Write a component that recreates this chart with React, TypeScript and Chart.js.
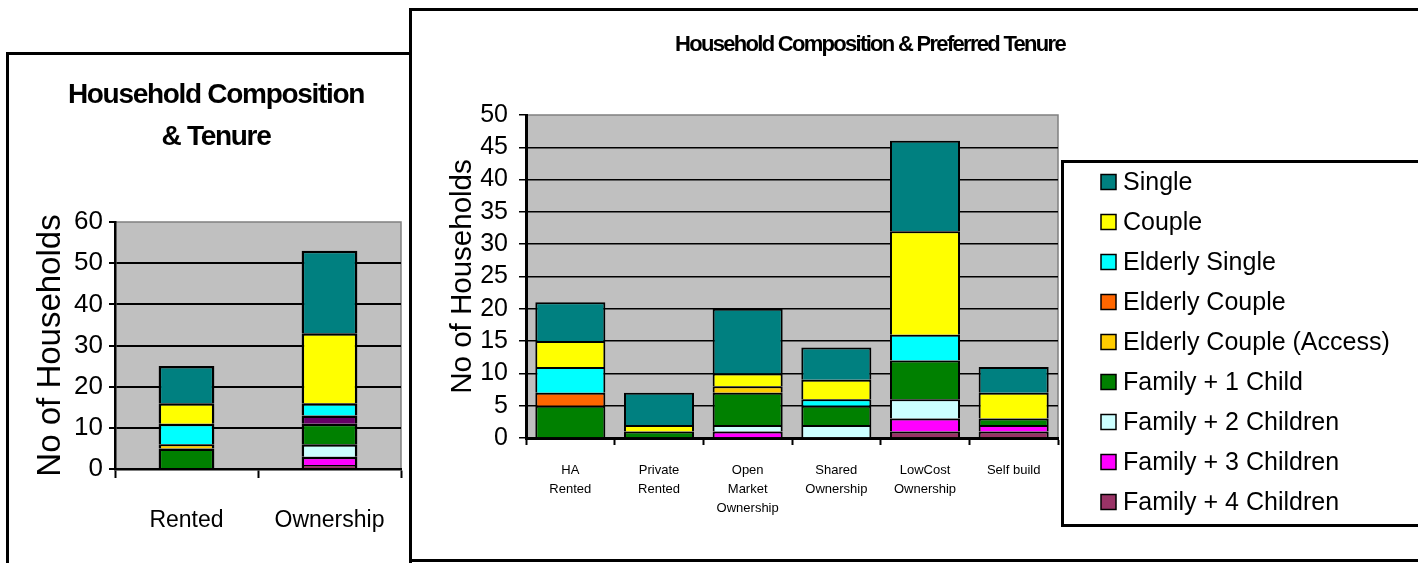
import React, { useEffect, useRef } from 'react';
import { Chart, registerables } from 'chart.js';

Chart.register(...registerables);

const FONT = '"Liberation Sans", Arial, sans-serif';

// Series (bottom of stack first)
const seriesLabels = [
  'Family + 4 Children',
  'Family + 3 Children',
  'Family + 2 Children',
  'Family + 1 Child',
  'Elderly Couple (Access)',
  'Elderly Couple',
  'Elderly Single',
  'Couple',
  'Single',
];
const seriesColors = ['#993366', '#FF00FF', '#CCFFFF', '#008000', '#FFCC00', '#FF6600', '#00FFFF', '#FFFF00', '#008080'];
const tenureColors = ['#993366', '#FF00FF', '#CCFFFF', '#008000', '#FFCC00', '#660066', '#00FFFF', '#FFFF00', '#008080'];

// Left chart: Household Composition & Tenure
const tenureCategories = ['Rented', 'Ownership'];
const tenureFamily4 = [0, 1];
const tenureFamily3 = [0, 2];
const tenureFamily2 = [0, 3];
const tenureFamily1 = [5, 5];
const tenureElderlyCoupleAccess = [1, 0];
const tenureElderlyCouple = [0, 2];
const tenureElderlySingle = [5, 3];
const tenureCouple = [5, 17];
const tenureSingle = [9, 20];
const tenureTicks = [0, 10, 20, 30, 40, 50, 60];

// Right chart: Household Composition & Preferred Tenure
const prefCategories = [
  ['HA', 'Rented'],
  ['Private', 'Rented'],
  ['Open', 'Market', 'Ownership'],
  ['Shared', 'Ownership'],
  ['LowCost', 'Ownership'],
  ['Self build'],
];
const prefFamily4 = [0, 0, 0, 0, 1, 1];
const prefFamily3 = [0, 0, 1, 0, 2, 1];
const prefFamily2 = [0, 0, 1, 2, 3, 0];
const prefFamily1 = [5, 1, 5, 3, 6, 1];
const prefElderlyCoupleAccess = [0, 0, 1, 0, 0, 0];
const prefElderlyCouple = [2, 0, 0, 0, 0, 0];
const prefElderlySingle = [4, 0, 0, 1, 4, 0];
const prefCouple = [4, 1, 2, 3, 16, 4];
const prefSingle = [6, 5, 10, 5, 14, 4];
const prefTicks = [0, 5, 10, 15, 20, 25, 30, 35, 40, 45, 50];

const tenureSeries = [
  tenureFamily4, tenureFamily3, tenureFamily2, tenureFamily1, tenureElderlyCoupleAccess,
  tenureElderlyCouple, tenureElderlySingle, tenureCouple, tenureSingle,
];
const prefSeries = [
  prefFamily4, prefFamily3, prefFamily2, prefFamily1, prefElderlyCoupleAccess,
  prefElderlyCouple, prefElderlySingle, prefCouple, prefSingle,
];

const plotBg = {
  id: 'plotBg',
  beforeDraw(chart: any) {
    const { ctx, chartArea: a } = chart;
    ctx.save();
    ctx.fillStyle = '#C0C0C0';
    ctx.fillRect(a.left, a.top, a.right - a.left, a.bottom - a.top);
    ctx.strokeStyle = '#808080';
    ctx.lineWidth = 1.5;
    ctx.beginPath();
    ctx.moveTo(a.left, a.top);
    ctx.lineTo(a.right, a.top);
    ctx.lineTo(a.right, a.bottom);
    ctx.stroke();
    ctx.restore();
  },
};

const customTitle = {
  id: 'customTitle',
  afterDraw(chart: any, _args: any, opts: any) {
    const ctx = chart.ctx;
    ctx.save();
    ctx.fillStyle = '#000';
    ctx.font = opts.font;
    ctx.textAlign = 'center';
    ctx.textBaseline = 'middle';
    if ('letterSpacing' in ctx) (ctx as any).letterSpacing = opts.spacing;
    const lines: string[] = opts.lines;
    lines.forEach((t, i) => ctx.fillText(t, opts.x, opts.y + i * opts.gap));
    ctx.restore();
  },
};

const customLegend = {
  id: 'customLegend',
  afterDraw(chart: any, _args: any, opts: any) {
    if (!opts.show) return;
    const ctx = chart.ctx;
    ctx.save();
    ctx.strokeStyle = '#000';
    ctx.lineWidth = 3;
    ctx.strokeRect(opts.boxLeft, opts.boxTop, opts.boxWidth, opts.boxHeight);
    const ds = chart.data.datasets.slice().reverse();
    ctx.font = opts.font;
    ctx.textAlign = 'left';
    ctx.textBaseline = 'middle';
    ds.forEach((d: any, i: number) => {
      const cy = opts.firstY + i * opts.step;
      ctx.fillStyle = d.backgroundColor;
      ctx.fillRect(opts.squareX, cy - 7.5, 15, 15);
      ctx.lineWidth = 1.5;
      ctx.strokeStyle = '#000';
      ctx.strokeRect(opts.squareX, cy - 7.5, 15, 15);
      ctx.fillStyle = '#000';
      ctx.fillText(d.label, opts.textX, cy + 1.5);
    });
    ctx.restore();
  },
};

function makeConfig(p: {
  categories: any[];
  series: number[][];
  colors: string[];
  ticks: number[];
  padding: any;
  yWidth: number;
  xHeight: number;
  barPct: number;
  barBorder: number;
  yTickFont: number;
  yTickPad: number;
  yTickLen: number;
  yTitleFont: number;
  yTitlePad: number;
  xTickFont: number;
  xLineHeight: number;
  xTickPad: number;
  xTickLen: number;
  gridWidth: number;
  axisWidth: number;
  title: any;
  legend: any;
}): any {
  const max = p.ticks[p.ticks.length - 1];
  return {
    type: 'bar',
    data: {
      labels: p.categories,
      datasets: seriesLabels.map((label, i) => ({
        label,
        data: p.series[i],
        backgroundColor: p.colors[i],
        borderColor: '#000',
        borderWidth: p.barBorder,
        categoryPercentage: 1,
        barPercentage: p.barPct,
      })),
    },
    options: {
      animation: false,
      responsive: false,
      layout: { padding: p.padding },
      plugins: {
        legend: { display: false },
        title: { display: false },
        tooltip: { enabled: false },
        customTitle: p.title,
        customLegend: p.legend,
      },
      scales: {
        x: {
          stacked: true,
          offset: true,
          grid: {
            display: true,
            drawOnChartArea: false,
            drawTicks: true,
            offset: true,
            tickLength: p.xTickLen,
            tickColor: '#000',
            tickWidth: 2,
          },
          border: { display: true, color: '#000', width: p.axisWidth },
          ticks: {
            color: '#000',
            font: { family: FONT, size: p.xTickFont, lineHeight: p.xLineHeight },
            padding: p.xTickPad,
            maxRotation: 0,
            minRotation: 0,
            autoSkip: false,
          },
          afterFit: (s: any) => {
            s.height = p.xHeight;
          },
        },
        y: {
          stacked: true,
          min: 0,
          max,
          afterBuildTicks: (s: any) => {
            s.ticks = p.ticks.map((v) => ({ value: v }));
          },
          ticks: {
            color: '#000',
            font: { family: FONT, size: p.yTickFont },
            padding: p.yTickPad,
            autoSkip: false,
          },
          grid: {
            color: (c: any) => (c.tick && c.tick.value === max ? 'rgba(0,0,0,0)' : '#000'),
            lineWidth: p.gridWidth,
            drawTicks: true,
            tickLength: p.yTickLen,
            tickColor: '#000',
            tickWidth: p.gridWidth,
          },
          border: { display: true, color: '#000', width: p.axisWidth },
          title: {
            display: true,
            text: 'No of Households',
            color: '#000',
            font: { family: FONT, size: p.yTitleFont, lineHeight: 1.2 },
            padding: { top: p.yTitlePad, bottom: 0 },
          },
          afterFit: (s: any) => {
            s.width = p.yWidth;
          },
        },
      },
    },
    plugins: [plotBg, customTitle, customLegend],
  };
}

export default function App() {
  const leftRef = useRef<HTMLCanvasElement>(null);
  const rightRef = useRef<HTMLCanvasElement>(null);

  useEffect(() => {
    Chart.defaults.font.family = FONT;
    Chart.defaults.color = '#000';

    const left = new Chart(
      leftRef.current as HTMLCanvasElement,
      makeConfig({
        categories: tenureCategories,
        series: tenureSeries,
        colors: tenureColors,
        ticks: tenureTicks,
        padding: { left: 8, right: 1017, top: 222, bottom: 14 },
        yWidth: 107,
        xHeight: 80,
        barPct: 0.39,
        barBorder: 2.5,
        yTickFont: 26,
        yTickPad: 6,
        yTickLen: 6,
        yTitleFont: 33,
        yTitlePad: 23.5,
        xTickFont: 23,
        xLineHeight: 1.2,
        xTickPad: 29,
        xTickLen: 9,
        gridWidth: 2,
        axisWidth: 2.5,
        title: {
          lines: ['Household Composition', '& Tenure'],
          x: 216,
          y: 95,
          gap: 42,
          font: 'bold 28px ' + FONT,
          spacing: '-1.3px',
        },
        legend: { show: false },
      })
    );

    const right = new Chart(
      rightRef.current as HTMLCanvasElement,
      makeConfig({
        categories: prefCategories,
        series: prefSeries,
        colors: seriesColors,
        ticks: prefTicks,
        padding: { left: 420, right: 360, top: 115, bottom: 45 },
        yWidth: 106,
        xHeight: 80,
        barPct: 0.79,
        barBorder: 2,
        yTickFont: 25,
        yTickPad: 11,
        yTickLen: 7,
        yTitleFont: 29.5,
        yTitlePad: 24.8,
        xTickFont: 13,
        xLineHeight: 1.45,
        xTickPad: 16,
        xTickLen: 7,
        gridWidth: 1.5,
        axisWidth: 3,
        title: {
          lines: ['Household Composition & Preferred Tenure'],
          x: 870,
          y: 45,
          gap: 0,
          font: 'bold 22px ' + FONT,
          spacing: '-1.7px',
        },
        legend: {
          show: true,
          boxLeft: 1062.5,
          boxTop: 161.5,
          boxWidth: 400,
          boxHeight: 364,
          firstY: 182,
          step: 40,
          squareX: 1101,
          textX: 1123,
          font: '25px ' + FONT,
        },
      })
    );

    return () => {
      left.destroy();
      right.destroy();
    };
  }, []);

  return (
    <div
      style={{
        position: 'fixed',
        left: 0,
        top: 0,
        width: 1418,
        height: 563,
        overflow: 'hidden',
        background: '#fff',
      }}
    >
      <div
        style={{
          position: 'absolute',
          left: 6,
          top: 52,
          width: 406,
          height: 600,
          border: '3px solid #000',
          boxSizing: 'border-box',
        }}
      />
      <div
        style={{
          position: 'absolute',
          left: 409,
          top: 8,
          width: 1100,
          height: 554,
          border: '3px solid #000',
          boxSizing: 'border-box',
        }}
      />
      <canvas
        ref={leftRef}
        width={1418}
        height={563}
        style={{ position: 'absolute', left: 0, top: 0, width: 1418, height: 563 }}
      />
      <canvas
        ref={rightRef}
        width={1418}
        height={563}
        style={{ position: 'absolute', left: 0, top: 0, width: 1418, height: 563 }}
      />
    </div>
  );
}
